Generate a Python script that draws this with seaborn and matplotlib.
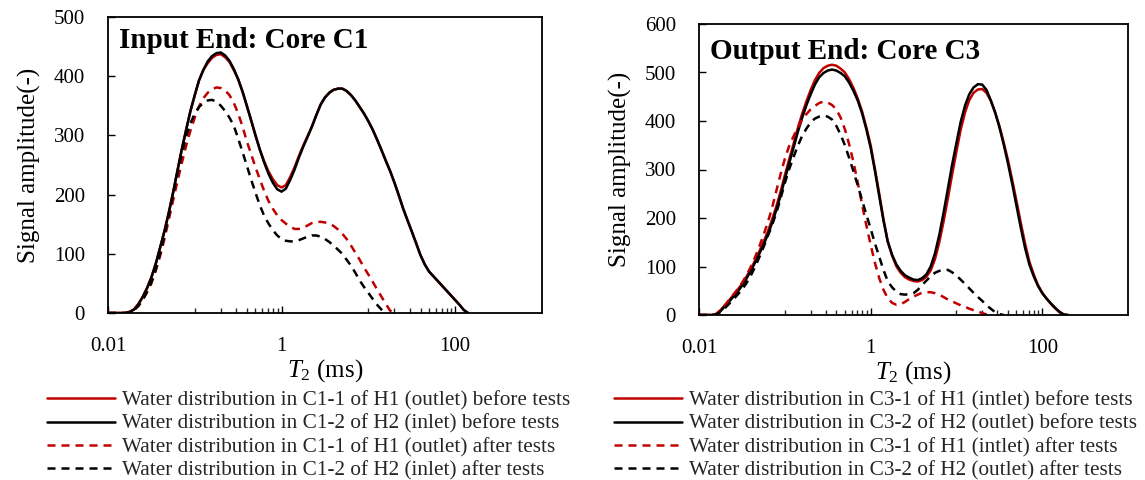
import numpy as np
import pandas as pd
import matplotlib
matplotlib.use("Agg")
import matplotlib.pyplot as plt
import seaborn as sns
from matplotlib.ticker import FixedLocator, NullFormatter, FixedFormatter

nan = np.nan

# T2 relaxation time grid (ms), read positions along the log axis
T2_ms = [0.01, 0.0112, 0.0126, 0.0141, 0.0158, 0.0178, 0.02, 0.0224, 0.0251, 0.0282,
         0.0316, 0.0355, 0.0398, 0.0447, 0.0501, 0.0562, 0.0631, 0.0708, 0.0794, 0.0891,
         0.1, 0.112, 0.126, 0.141, 0.158, 0.178, 0.2, 0.224, 0.251, 0.282,
         0.316, 0.355, 0.398, 0.447, 0.501, 0.562, 0.631, 0.708, 0.794, 0.891,
         1.0, 1.12, 1.26, 1.41, 1.58, 1.78, 2.0, 2.24, 2.51, 2.82,
         3.16, 3.55, 3.98, 4.47, 5.01, 5.62, 6.31, 7.08, 7.94, 8.91,
         10.0, 11.2, 12.6, 14.1, 15.8, 17.8, 20.0, 22.4, 25.1, 28.2,
         31.6, 35.5, 39.8, 44.7, 50.1, 56.2, 63.1, 70.8, 79.4, 89.1,
         100.0, 112.0, 126.0, 141.0, 158.0, 178.0, 200.0]

# ---- Core C1 (input end) ----
c1_1_before = [0, 0, 0, 0, 0, 2, 6, 15, 27, 42,
               60, 83, 110, 138, 169, 203, 240, 276, 309, 341,
               368, 393, 411, 422, 431, 436, 437, 432, 424, 410,
               395, 374, 350, 325, 300, 276, 256, 239, 226, 216,
               212, 216, 230, 246, 265, 283, 299, 315, 334, 352,
               364, 372, 377, 379, 379, 375, 368, 359, 348, 337,
               324, 310, 293, 276, 258, 240, 220, 199, 177, 157,
               138, 118, 98, 82, 70, 62, 54, 46, 38, 30,
               22, 14, 5, 0, nan, nan, nan]
c1_2_before = [0, 0, 0, 0, 0, 2, 6, 15, 27, 42,
               60, 83, 110, 138, 169, 203, 240, 276, 309, 341,
               368, 393, 411, 425, 434, 439, 440, 435, 426, 412,
               395, 374, 350, 325, 300, 276, 254, 235, 220, 209,
               205, 210, 225, 242, 262, 281, 298, 315, 334, 352,
               364, 372, 377, 379, 379, 375, 368, 359, 348, 337,
               324, 310, 293, 276, 258, 240, 220, 199, 177, 157,
               138, 118, 98, 82, 70, 62, 54, 46, 38, 30,
               22, 14, 5, 0, nan, nan, nan]
c1_1_after = [0, 0, 0, 0, 0, 1, 5, 12, 22, 35,
              50, 71, 96, 125, 157, 190, 222, 253, 282, 308,
              330, 349, 363, 372, 378, 381, 380, 376, 368, 355,
              337, 315, 290, 268, 246, 226, 206, 189, 176, 165,
              157, 151, 146, 142, 142, 144, 148, 152, 154, 154,
              153, 151, 147, 141, 134, 125, 114, 102, 90, 77,
              65, 53, 40, 28, 16, 4, 0, nan, nan, nan,
              nan, nan, nan, nan, nan, nan, nan, nan, nan, nan,
              nan, nan, nan, nan, nan, nan, nan]
c1_2_after = [0, 0, 0, 0, 0, 1, 5, 12, 22, 36,
              52, 74, 100, 131, 165, 200, 235, 268, 298, 320,
              337, 348, 355, 359, 360, 357, 350, 341, 330, 316,
              295, 272, 249, 225, 203, 182, 164, 151, 140, 131,
              125, 122, 121, 121, 123, 126, 129, 131, 131, 129,
              125, 120, 114, 107, 100, 90, 80, 68, 55, 44,
              34, 24, 14, 6, 0, nan, nan, nan, nan, nan,
              nan, nan, nan, nan, nan, nan, nan, nan, nan, nan,
              nan, nan, nan, nan, nan, nan, nan]

# ---- Core C3 (output end) ----
c3_1_before = [0, 0, 0, 0, 2, 10, 20, 30, 41, 52,
               64, 78, 94, 111, 130, 150, 171, 196, 223, 254,
               288, 320, 352, 384, 413, 440, 464, 484, 499, 509,
               514, 516, 514, 508, 500, 486, 468, 446, 420, 387,
               350, 302, 250, 198, 152, 122, 100, 87, 78, 73,
               70, 69, 72, 79, 92, 115, 150, 193, 240, 290,
               337, 382, 418, 443, 458, 465, 466, 458, 442, 418,
               390, 356, 320, 278, 235, 190, 147, 110, 84, 62,
               46, 34, 23, 14, 6, 1, 0]
c3_2_before = [0, 0, 0, 0, 1, 8, 18, 27, 38, 48,
               60, 74, 90, 107, 125, 144, 165, 189, 216, 246,
               280, 312, 344, 376, 405, 432, 455, 475, 490, 499,
               504, 506, 504, 499, 492, 479, 462, 442, 416, 383,
               345, 298, 245, 195, 152, 124, 104, 91, 82, 77,
               73, 72, 76, 84, 100, 127, 165, 211, 260, 310,
               355, 398, 432, 455, 469, 476, 475, 464, 443, 418,
               388, 352, 313, 270, 225, 180, 138, 104, 80, 60,
               45, 34, 24, 15, 7, 1, 0]
c3_1_after = [0, 0, 0, 0, 2, 10, 20, 31, 42, 53,
              66, 81, 98, 118, 140, 164, 190, 220, 255, 290,
              322, 348, 368, 386, 402, 414, 424, 431, 437, 440,
              438, 433, 424, 407, 383, 352, 315, 273, 228, 185,
              145, 108, 76, 52, 35, 25, 21, 22, 27, 33,
              38, 42, 46, 47, 47, 45, 42, 37, 32, 28,
              24, 20, 17, 13, 10, 7, 4, 1, 0, nan,
              nan, nan, nan, nan, nan, nan, nan, nan, nan, nan,
              nan, nan, nan, nan, nan, nan, nan]
c3_2_after = [0, 0, 0, 0, 1, 6, 14, 23, 32, 42,
              52, 65, 80, 98, 118, 139, 162, 185, 210, 240,
              272, 300, 325, 348, 368, 384, 397, 405, 409, 411,
              409, 403, 390, 372, 350, 324, 296, 267, 237, 207,
              178, 148, 120, 93, 70, 57, 48, 43, 42, 43,
              45, 52, 62, 71, 80, 87, 91, 93, 93, 88,
              81, 73, 64, 55, 46, 37, 29, 20, 13, 6,
              2, 0, nan, nan, nan, nan, nan, nan, nan, nan,
              nan, nan, nan, nan, nan, nan, nan]

labels_c1 = ["Water distribution in C1-1 of H1 (outlet) before tests",
             "Water distribution in C1-2 of H2 (inlet) before tests",
             "Water distribution in C1-1 of H1 (outlet) after tests",
             "Water distribution in C1-2 of H2 (inlet) after tests"]
labels_c3 = ["Water distribution in C3-1 of H1 (intlet) before tests",
             "Water distribution in C3-2 of H2 (outlet) before tests",
             "Water distribution in C3-1 of H1 (intlet) after tests",
             "Water distribution in C3-2 of H2 (outlet) after tests"]

x_major = [0.01, 1, 100]
x_major_labels = ["0.01", "1", "100"]
x_minor = [0.1, 0.2, 0.3, 0.4, 0.5, 0.6, 0.7, 0.8, 0.9,
           10, 20, 30, 40, 50, 60, 70, 80, 90]

sns.set_theme(style="white")
plt.rcParams["font.family"] = ["Liberation Serif", "DejaVu Serif"]
plt.rcParams["mathtext.fontset"] = "custom"
plt.rcParams["mathtext.rm"] = "Liberation Serif"
plt.rcParams["mathtext.it"] = "Liberation Serif:italic"

RED = "#C00000"
DASH = (0, (3.2, 2.4))
styles = [(RED, "-"), ("black", "-"), (RED, DASH), ("black", DASH)]

fig = plt.figure(figsize=(11.45, 4.8), dpi=100)
ax1 = fig.add_axes([0.0943, 0.3479, 0.379, 0.6167])
ax2 = fig.add_axes([0.6105, 0.34375, 0.3747, 0.60625])


def draw(ax, series, labels, ymax, title, title_y, leg_x):
    for vals, lab, (c, ls) in zip(series, labels, styles):
        df = pd.DataFrame({"T2": T2_ms, "amp": vals}).dropna()
        sns.lineplot(data=df, x="T2", y="amp", ax=ax, color=c, linestyle=ls,
                     linewidth=1.8, label=lab, errorbar=None, sort=True)
    ax.set_xscale("log")
    ax.set_xlim(0.01, 1000)
    ax.set_ylim(0, ymax)
    ax.xaxis.set_major_locator(FixedLocator(x_major))
    ax.xaxis.set_major_formatter(FixedFormatter(x_major_labels))
    ax.xaxis.set_minor_locator(FixedLocator(x_minor))
    ax.xaxis.set_minor_formatter(NullFormatter())
    ax.set_yticks(list(range(0, ymax + 1, 100)))
    ax.tick_params(axis="x", which="major", direction="in", length=5, width=1,
                   labelsize=15, pad=17, colors="black", bottom=True)
    ax.tick_params(axis="x", which="minor", direction="in", length=3.5, width=1,
                   bottom=True)
    ax.tick_params(axis="y", which="major", direction="in", length=5, width=1,
                   labelsize=15, pad=16.5, colors="black", left=True)
    for s in ax.spines.values():
        s.set_visible(True)
        s.set_color("black")
        s.set_linewidth(1.3)
    ax.set_xlabel(r"$T_2$ (ms)", fontsize=18, labelpad=1, color="black")
    ax.set_ylabel("Signal amplitude(-)", fontsize=18, labelpad=9, color="black")
    ax.text(0.025, title_y, title, transform=ax.transAxes, fontsize=21,
            fontweight="bold", va="top", ha="left", color="black")
    ax.legend(loc="upper left", bbox_to_anchor=(leg_x, 0.1854),
              bbox_transform=fig.transFigure, frameon=False, fontsize=15.3,
              handlelength=3.2, handletextpad=0.35, labelspacing=0.15,
              borderpad=0, borderaxespad=0)


draw(ax1, [c1_1_before, c1_2_before, c1_1_after, c1_2_after], labels_c1,
     500, "Input End: Core C1", 0.966, 0.041)
draw(ax2, [c3_1_before, c3_2_before, c3_1_after, c3_2_after], labels_c3,
     600, "Output End: Core C3", 0.952, 0.536)

fig.savefig("out.png", dpi=100)
